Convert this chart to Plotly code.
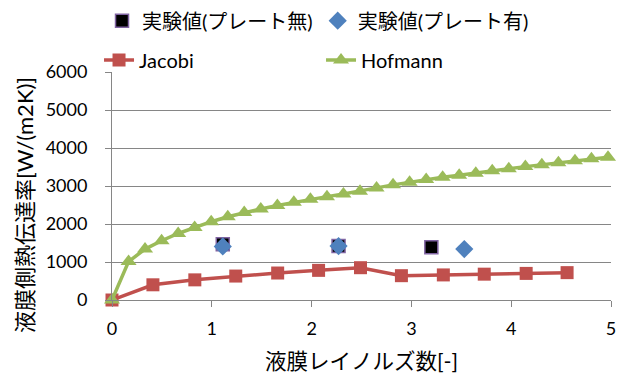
import plotly.graph_objects as go

# Data
jacobi_x = [0, 0.41, 0.83, 1.24, 1.66, 2.07, 2.49, 2.90, 3.32, 3.73, 4.15, 4.56]
jacobi_y = [0, 400, 530, 630, 710, 780, 850, 640, 660, 680, 700, 720]

hofmann_x = [0, 0.166, 0.331, 0.497, 0.663, 0.828, 0.994, 1.16, 1.325, 1.491, 1.657,
             1.822, 1.988, 2.154, 2.319, 2.485, 2.651, 2.816, 2.982, 3.148, 3.313,
             3.479, 3.645, 3.81, 3.976, 4.142, 4.307, 4.473, 4.639, 4.804, 4.97]
hofmann_y = [0, 1010, 1340, 1560, 1750, 1910, 2060, 2190, 2300, 2395, 2485,
             2570, 2650, 2720, 2790, 2860, 2950, 3030, 3100, 3170, 3230,
             3285, 3335, 3400, 3455, 3510, 3560, 3615, 3665, 3715, 3755]

exp_noplate_x = [1.11, 2.27, 3.20]
exp_noplate_y = [1470, 1420, 1390]
exp_plate_x = [1.11, 2.27, 3.53]
exp_plate_y = [1410, 1420, 1340]

name_noplate = "実験値(プレート無)"
name_plate = "実験値(プレート有)"
name_jacobi = "Jacobi"
name_hofmann = "Hofmann"

x_title = "液膜レイノルズ数[-]"
y_title = "液膜側熱伝達率[W/(m2K)]"

FONT = "Lato, 'Noto Sans CJK JP', sans-serif"

fig = go.Figure()
fig.add_trace(go.Scatter(
    x=jacobi_x, y=jacobi_y, name=name_jacobi, mode="lines+markers",
    line=dict(color="#C0504D", width=3.5),
    marker=dict(symbol="square", size=13, color="#C0504D"),
    cliponaxis=False, legend="legend2"))
fig.add_trace(go.Scatter(
    x=hofmann_x, y=hofmann_y, name=name_hofmann, mode="lines+markers",
    line=dict(color="#9BBB59", width=3.5),
    marker=dict(symbol="triangle-up", size=14, color="#9BBB59"),
    cliponaxis=False, legend="legend2"))
fig.add_trace(go.Scatter(
    x=exp_noplate_x, y=exp_noplate_y, name=name_noplate, mode="markers",
    marker=dict(symbol="square", size=13, color="black",
                line=dict(color="#8064A2", width=1.5)),
    legend="legend"))
fig.add_trace(go.Scatter(
    x=exp_plate_x, y=exp_plate_y, name=name_plate, mode="markers",
    marker=dict(symbol="diamond", size=14, color="#4F81BD"),
    legend="legend"))

axis_common = dict(
    showline=True, linecolor="#868686", linewidth=1,
    gridcolor="#868686", gridwidth=1,
    ticks="outside", tickcolor="#868686", ticklen=6,
    tickfont=dict(family=FONT, size=18, color="black"),
    zeroline=False, automargin=False,
)

fig.update_xaxes(range=[0, 5], dtick=1, showgrid=False,
                 title=dict(text=x_title, font=dict(family=FONT, size=21.5, color="black"), standoff=16),
                 ticklabelstandoff=6, **axis_common)
fig.update_yaxes(range=[0, 6000], dtick=1000, showgrid=True,
                 ticklabelstandoff=14, **axis_common)

fig.add_annotation(text=y_title, textangle=-90, xref="paper", yref="paper",
                   x=-0.174, y=0.417, xanchor="center", yanchor="middle",
                   showarrow=False, font=dict(family=FONT, size=22, color="black"))

fig.update_layout(
    width=624, height=374,
    margin=dict(l=112, r=13, t=72, b=74, autoexpand=False),
    plot_bgcolor="white", paper_bgcolor="white",
    font=dict(family=FONT, size=20, color="black"),
    legend=dict(orientation="h", x=-0.02, xanchor="left", y=1.225, yanchor="middle",
                font=dict(family=FONT, size=20, color="black"),
                bgcolor="rgba(0,0,0,0)"),
    legend2=dict(orientation="h", x=-0.026, xanchor="left", y=1.053, yanchor="middle",
                 entrywidth=177, font=dict(family=FONT, size=20, color="black"),
                 bgcolor="rgba(0,0,0,0)"),
)

fig.write_html("out.html")
